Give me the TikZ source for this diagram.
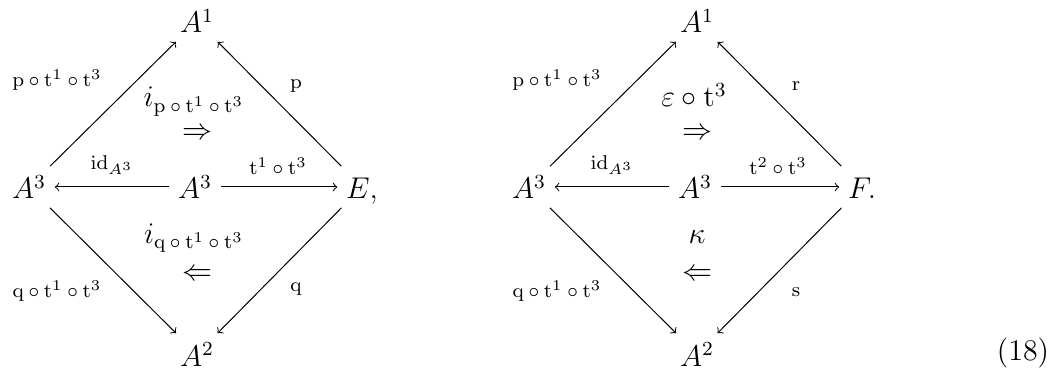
\documentclass[tikz,border=0pt]{standalone}
\usepackage{amsmath}
\usetikzlibrary{positioning}

\newcommand{\cc}{\mskip\medmuskip\circ\mskip\medmuskip}
\newcommand{\fbig}{\fontsize{12}{14.5}\selectfont}
\newcommand{\flbl}{\fontsize{8}{9.5}\selectfont}

\begin{document}
\begin{tikzpicture}[
    x=0.4pt, y=-0.4pt,
    obj/.style={font=\fbig, anchor=base, text height=9.6pt, text depth=0pt},
    map/.style={->},
    lbl/.style={font=\flbl},
    cell/.style={font=\fbig, inner sep=0.5pt},
    celltext/.style={font=\fbig, inner sep=0.5pt, anchor=base}
]
\useasboundingbox (0,0) rectangle (1057,385);

% left square
\node[obj] (a1) at (197,33) {$A^1$};
\node[obj] (a3l) at (29,199) {$A^3$};
\node[obj] (a3c) at (195,199) {$A^3$};
\node[obj] (e) at (362,199) {$E,$};
\node[obj] (a2) at (197,366) {$A^2$};

\draw[map] (a3l) -- (a1);
\draw[map] (e) -- (a1);
\draw[map] (a3c) -- (a3l);
\draw[map] (a3c) -- (e);
\draw[map] (a3l) -- (a2);
\draw[map] (e) -- (a2);

\node[lbl] (lpu) at (57,80) {$\mathrm{p}\circ\mathrm{t}^1\circ\mathrm{t}^3$};
\node[lbl] (lp) at (296,86) {$\mathrm{p}$};
\node[lbl] (lid) at (112,165) {$\mathrm{id}_{A^3}$};
\node[lbl] (lt) at (278,166) {$\mathrm{t}^1\circ\mathrm{t}^3$};
\node[lbl] (lqu) at (57,291) {$\mathrm{q}\circ\mathrm{t}^1\circ\mathrm{t}^3$};
\node[lbl] (lq) at (296,289) {$\mathrm{q}$};

% 2-cells, left
\node[celltext] (ip) at (194,107) {$i_{\mathrm{p}\cc\mathrm{t}^1\cc\mathrm{t}^3}$};
\node[cell] (up) at (197,134) {$\Rightarrow$};
\node[celltext] (iq) at (194,243) {$i_{\mathrm{q}\cc\mathrm{t}^1\cc\mathrm{t}^3}$};
\node[cell] (dn) at (197,275) {$\Leftarrow$};

% right square
\node[obj] (b1) at (697,33) {$A^1$};
\node[obj] (b3l) at (529,199) {$A^3$};
\node[obj] (b3c) at (695,199) {$A^3$};
\node[obj] (f) at (862,199) {$F.$};
\node[obj] (b2) at (697,366) {$A^2$};

\draw[map] (b3l) -- (b1);
\draw[map] (f) -- (b1);
\draw[map] (b3c) -- (b3l);
\draw[map] (b3c) -- (f);
\draw[map] (b3l) -- (b2);
\draw[map] (f) -- (b2);

\node[lbl] (lpu2) at (557,80) {$\mathrm{p}\circ\mathrm{t}^1\circ\mathrm{t}^3$};
\node[lbl] (lr) at (796,86) {$\mathrm{r}$};
\node[lbl] (lid2) at (612,165) {$\mathrm{id}_{A^3}$};
\node[lbl] (lt2) at (778,166) {$\mathrm{t}^2\circ\mathrm{t}^3$};
\node[lbl] (lqu2) at (557,291) {$\mathrm{q}\circ\mathrm{t}^1\circ\mathrm{t}^3$};
\node[lbl] (ls) at (796,292) {$\mathrm{s}$};

% 2-cells, right
\node[celltext] (eps) at (694,107) {$\varepsilon\circ\mathrm{t}^3$};
\node[cell] (up2) at (697,134) {$\Rightarrow$};
\node[celltext] (kap) at (697,243) {$\kappa$};
\node[cell] (dn2) at (697,275) {$\Leftarrow$};

% equation number
\node (eqno) at (1023,353) {\fbig(18)};

\end{tikzpicture}
\end{document}
